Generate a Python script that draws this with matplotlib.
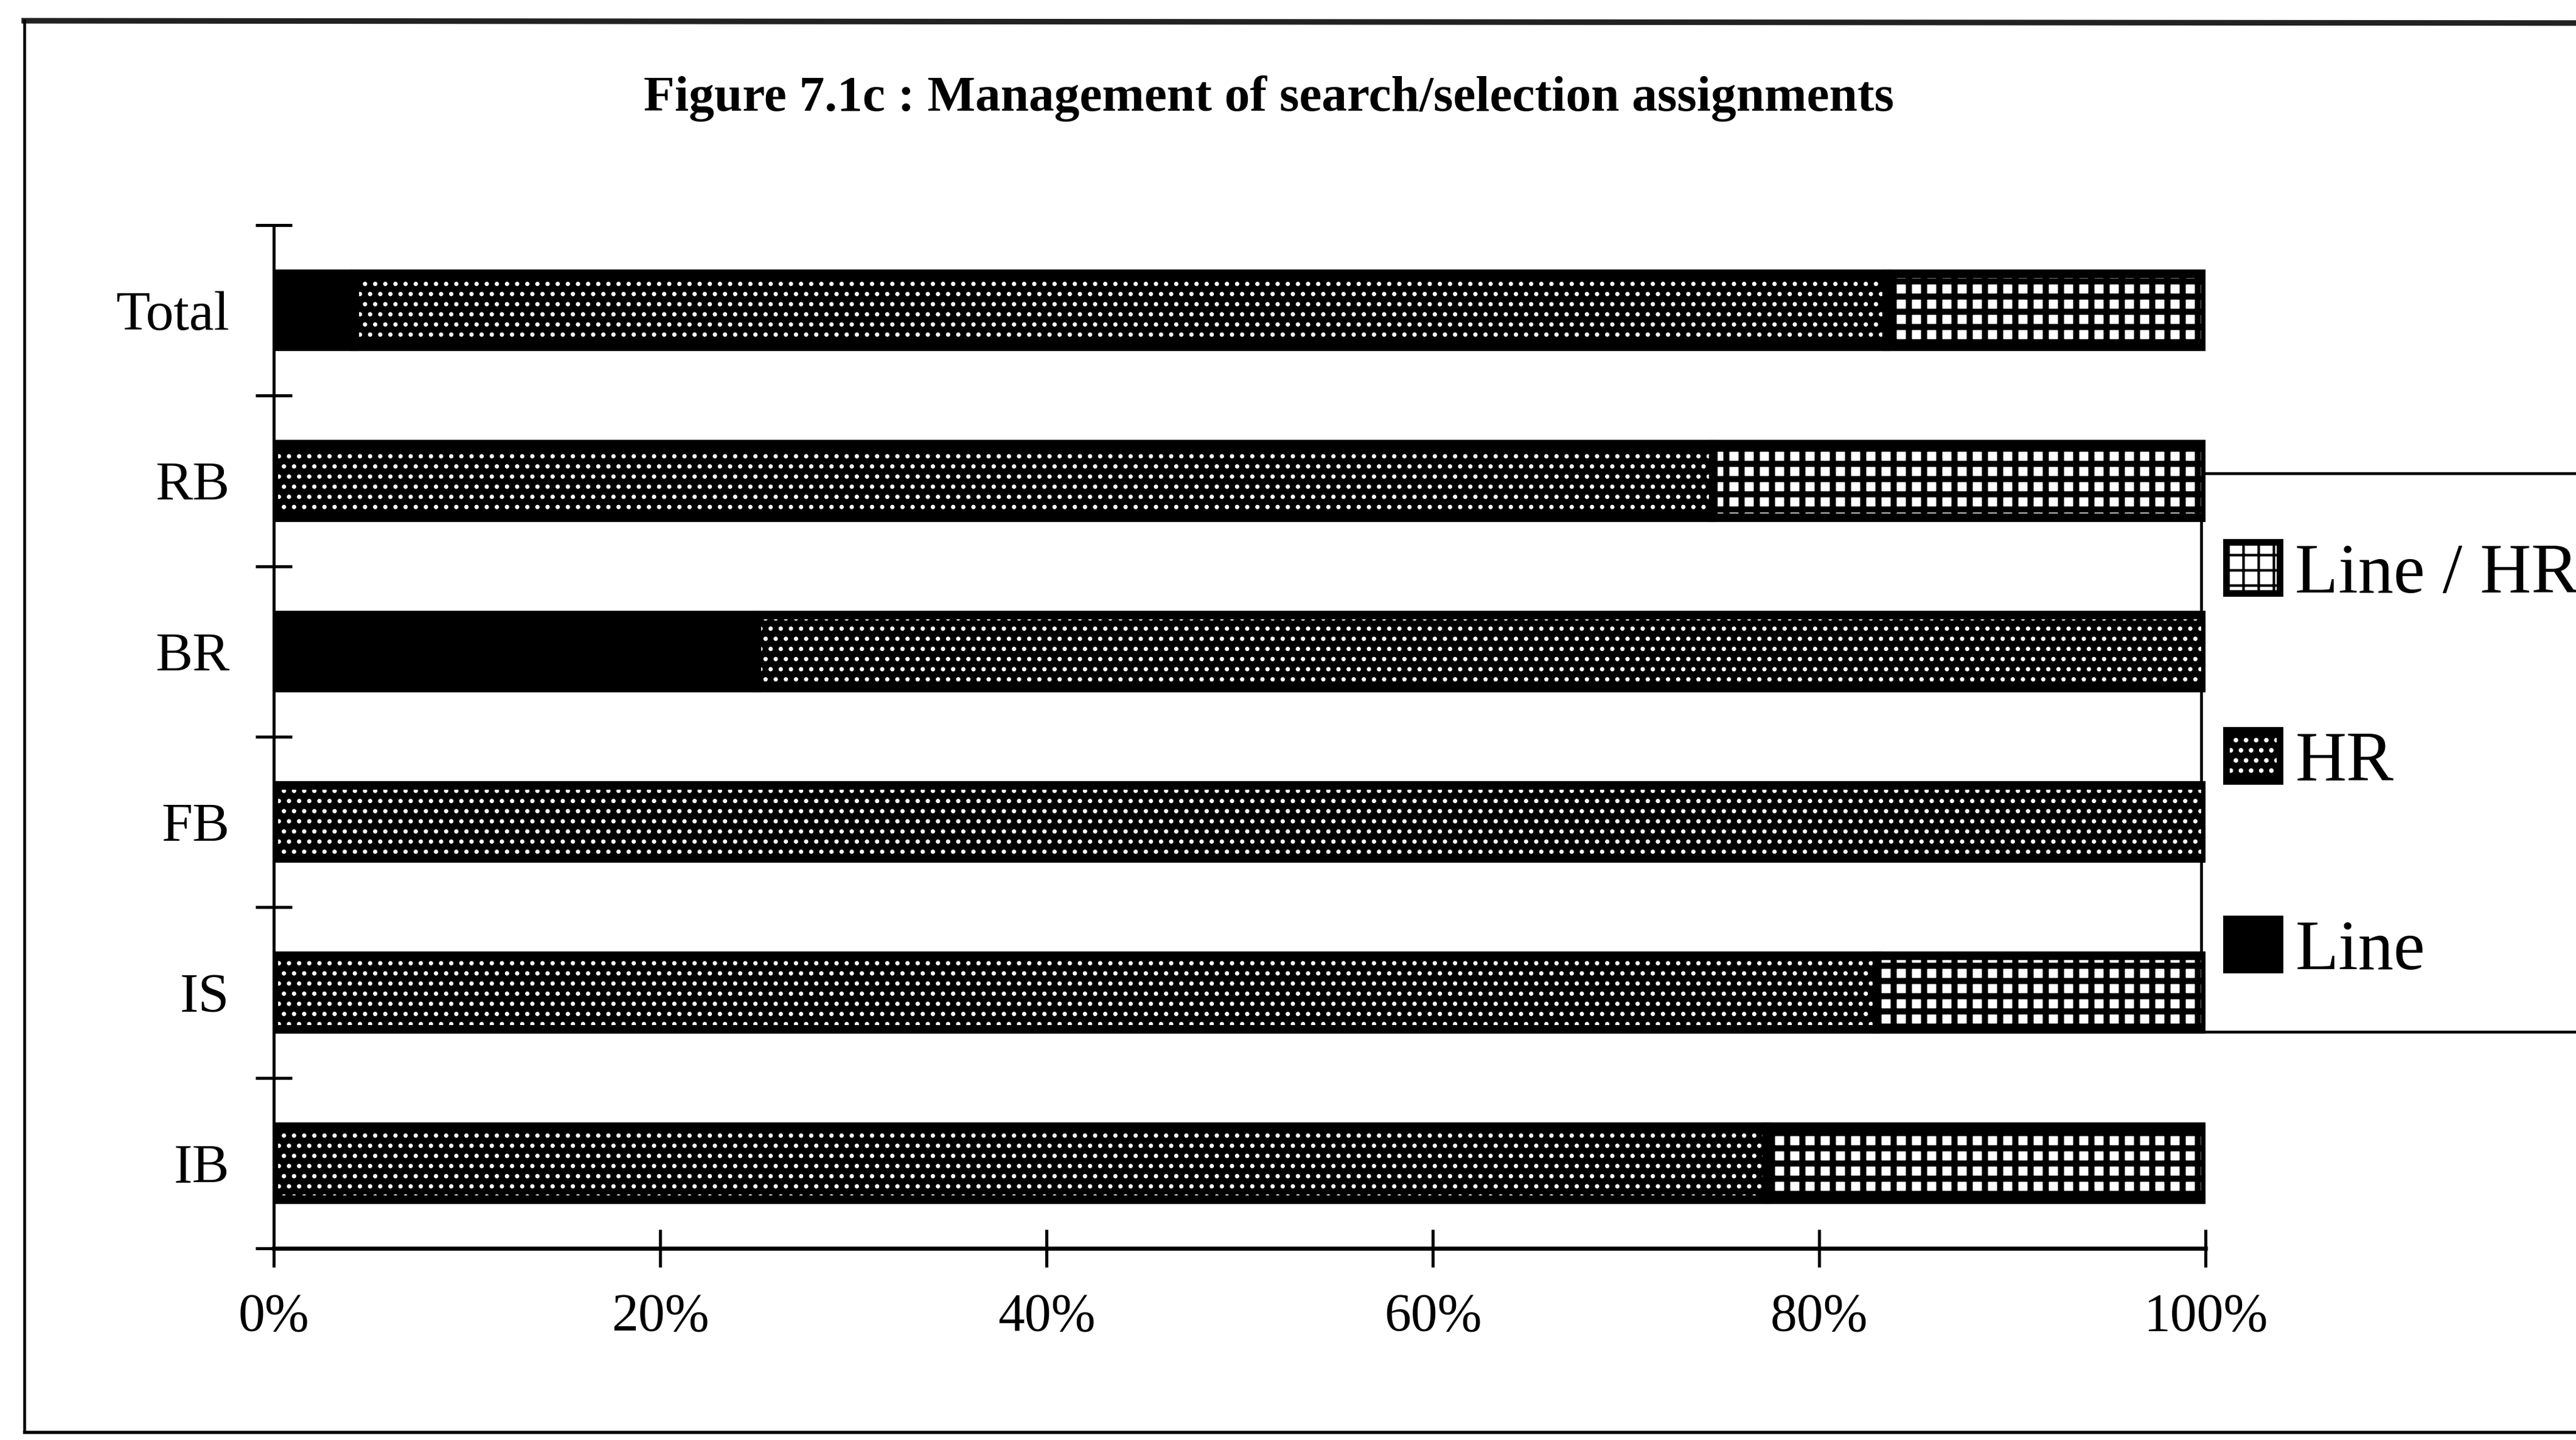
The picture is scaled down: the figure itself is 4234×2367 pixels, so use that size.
import matplotlib.pyplot as plt
from matplotlib.patches import Patch, Rectangle
from matplotlib.lines import Line2D
from matplotlib.legend_handler import HandlerTuple

# shares (%) of who manages search/selection assignments, bottom bar first
categories = ["IB", "IS", "FB", "BR", "RB", "Total"]
line_pct = [0.0, 0.0, 0.0, 25.0, 0.0, 4.2]
hr_pct = [77.3, 83.0, 100.0, 75.0, 74.5, 79.3]
line_hr_pct = [22.7, 17.0, 0.0, 0.0, 25.5, 16.5]

x_ticks = [0, 20, 40, 60, 80, 100]
x_tick_labels = ["0%", "20%", "40%", "60%", "80%", "100%"]
title = "Figure 7.1c : Management of search/selection assignments"

plt.rcParams["font.family"] = ["Liberation Serif", "DejaVu Serif"]

DPI = 300
fig = plt.figure(figsize=(4234 / DPI, 2367 / DPI), dpi=DPI)
fig.patch.set_facecolor("white")
ax = fig.add_axes([0.1063, 0.1331, 0.7499, 0.7106])
ax.patch.set_visible(False)

BAR_H = 0.43
OUTLINE_LW = 3.4

# fill styles: (face, hatch, hatch colour, hatch linewidth)
STYLE_LINE = ("black", None, "black", 1.0)
STYLE_HR = ("black", "...", "white", 0.9)
STYLE_LINE_HR = ("white", "++", "black", 2.4)


def set_hatch_lw(patch, lw):
    if hasattr(patch, "set_hatch_linewidth"):
        patch.set_hatch_linewidth(lw)


def stacked_segment(values, left, style):
    face, hatch, hcolor, hlw = style
    ypos = list(range(len(categories)))
    with plt.rc_context({"hatch.linewidth": hlw}):
        bars = ax.barh(ypos, values, left=left, height=BAR_H, color=face,
                       edgecolor=hcolor, hatch=hatch, linewidth=0, zorder=2)
    for b in bars:
        set_hatch_lw(b, hlw)
    ax.barh(ypos, values, left=left, height=BAR_H, fill=False,
            edgecolor="black", linewidth=OUTLINE_LW, zorder=3)


left_hr = line_pct
left_lhr = [a + b for a, b in zip(line_pct, hr_pct)]
stacked_segment(line_pct, [0] * len(categories), STYLE_LINE)
stacked_segment(hr_pct, left_hr, STYLE_HR)
stacked_segment(line_hr_pct, left_lhr, STYLE_LINE_HR)

# axes
ax.set_xlim(0, 100)
ax.set_ylim(-0.5, len(categories) - 0.5)
ax.set_xticks(x_ticks, x_tick_labels)
ax.set_yticks([i - 0.5 for i in range(len(categories) + 1)])
ax.set_yticks(list(range(len(categories))), categories, minor=True)
ax.tick_params(axis="y", which="major", direction="inout", length=14.4,
               width=1.2, labelleft=False)
ax.tick_params(axis="y", which="minor", length=0, pad=17.5, labelsize=22)
ax.tick_params(axis="x", direction="inout", length=15, width=1.2,
               pad=10, labelsize=21)
for side in ("top", "right"):
    ax.spines[side].set_visible(False)
ax.spines["left"].set_linewidth(1.2)
ax.spines["bottom"].set_linewidth(1.6)

fig.text(0.4925, 0.9316, title, ha="center", va="center",
         fontsize=20, fontweight="bold")

# legend box, running off the right edge of the page
fig.patches.append(Rectangle((0.8545, 0.2835), 0.3, 0.3878,
                             transform=fig.transFigure, fill=False,
                             edgecolor="black", linewidth=1.1, zorder=-1))


def legend_handle(style):
    face, hatch, hcolor, hlw = style
    with plt.rc_context({"hatch.linewidth": hlw}):
        fill = Patch(facecolor=face, edgecolor=hcolor, hatch=hatch, linewidth=0)
    set_hatch_lw(fill, hlw)
    edge = Patch(fill=False, edgecolor="black", linewidth=2.6)
    return (fill, edge)


handles = [legend_handle(STYLE_LINE_HR), legend_handle(STYLE_HR),
           legend_handle(STYLE_LINE)]
labels = ["Line / HR", "HR", "Line"]
fig.legend(handles, labels,
           handler_map={tuple: HandlerTuple(ndivide=1, pad=0)},
           loc="upper left", bbox_to_anchor=(0.8642, 0.6236), frameon=False,
           fontsize=28, handlelength=0.75, handleheight=0.73,
           handletextpad=0.22, labelspacing=1.73, borderpad=0,
           borderaxespad=0)

# page border
fig.add_artist(Line2D([0.0094, 1.0], [0.9856, 0.9840], color="#222222",
                      linewidth=2.2, transform=fig.transFigure))
fig.add_artist(Line2D([0.0094, 0.0094], [0.9856, 0.0055], color="black",
                      linewidth=1.1, transform=fig.transFigure))
fig.add_artist(Line2D([0.0094, 1.0], [0.0055, 0.0055], color="black",
                      linewidth=1.3, transform=fig.transFigure))

fig.savefig("out.png", dpi=DPI)
